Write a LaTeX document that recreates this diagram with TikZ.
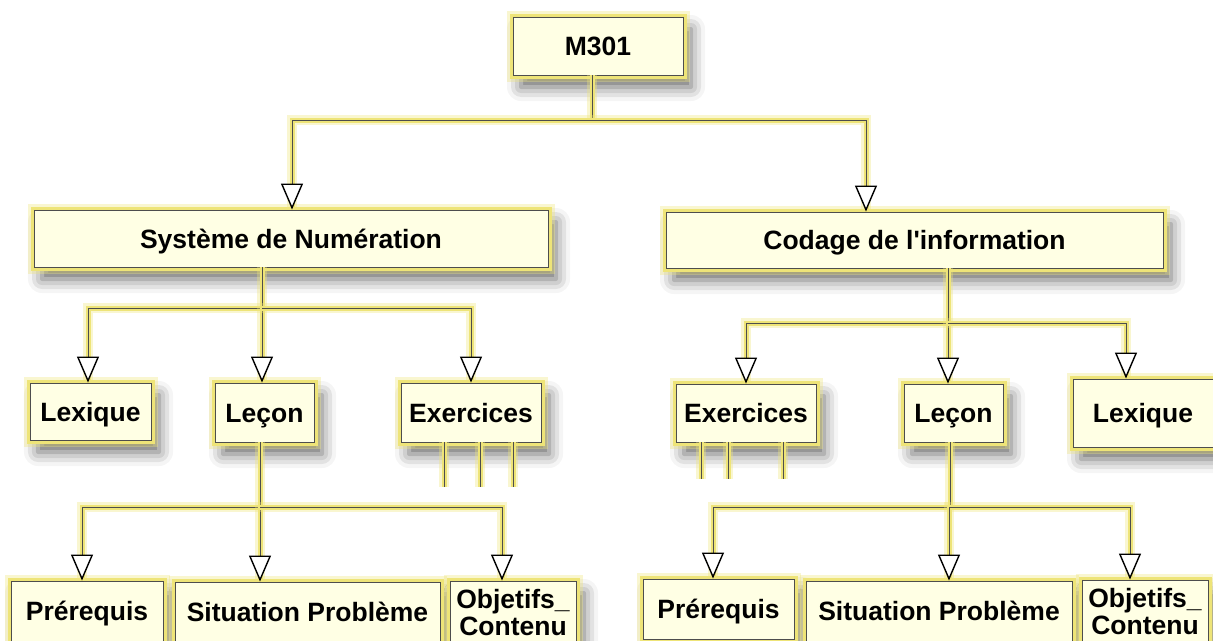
\documentclass[tikz,border=0pt]{standalone}
\usepackage{fontspec}
\setmainfont{Liberation Sans}[Ligatures=TeXOff]
\usetikzlibrary{arrows.meta,shadows.blur}
\definecolor{glow}{RGB}{238,228,120}
\definecolor{cream}{RGB}{255,255,228}
\definecolor{edge}{RGB}{77,77,77}

\begin{document}
\begin{tikzpicture}[x=1pt,y=-1pt,
        box/.style={draw=edge,line width=.9pt,fill=cream,inner sep=2pt,align=center,
            font=\bfseries\fontsize{26.5}{27}\selectfont,text height=19pt,text depth=0pt,
            blur shadow={shadow xshift=8pt,shadow yshift=-12pt,shadow blur radius=14pt,shadow opacity=60},
            preaction={draw=glow,line width=13pt,opacity=.35},
            preaction={draw=glow,line width=7pt}},
        link/.style={draw=edge,line width=.9pt,
            preaction={draw=glow,line width=10pt,opacity=.35,-},
            preaction={draw=glow,line width=5pt,-}},
        arr/.style={link,-{Triangle[length=26pt,width=22pt,color=black,fill=white,line width=1.4pt]}}]
        \useasboundingbox (0,0) rectangle (1213,640);
        \clip (0,0) rectangle (1213,640);

        \node[box,minimum width=170pt,minimum height=58pt] (m301) at (598,46) {M301};
        \node[box,minimum width=514pt,minimum height=57pt] (sysnum) at (291,238.5) {Système de Numération};
        \node[box,minimum width=497pt,minimum height=56pt] (codage) at (914.5,240) {Codage de l'information};

        \node[box,minimum width=121pt,minimum height=57pt] (lexA) at (90.5,411.5) {Lexique};
        \node[box,minimum width=99pt,minimum height=59pt] (leconA) at (264.5,412.5) {Leçon};
        \node[box,minimum width=140pt,minimum height=59pt] (exoA) at (471,412.5) {Exercices};
        \node[box,minimum width=140pt,minimum height=58pt] (exoB) at (746,413) {Exercices};
        \node[box,minimum width=99pt,minimum height=58pt] (leconB) at (953.5,413) {Leçon};
        \node[box,minimum width=140pt,minimum height=68pt] (lexB) at (1143,413) {Lexique};

        \node[box,minimum width=152pt,minimum height=60pt] (preA) at (87,611) {Prérequis};
        \node[box,minimum width=265pt,minimum height=60pt] (sitA) at (307.5,612) {Situation Problème};
        \node[box,minimum width=126pt,minimum height=62pt,text height=46pt] (objA) at (513,612) {Objetifs\_\\Contenu};
        \node[box,minimum width=151pt,minimum height=60pt] (preB) at (718.5,609) {Prérequis};
        \node[box,minimum width=266pt,minimum height=60pt] (sitB) at (939,611) {Situation Problème};
        \node[box,minimum width=126pt,minimum height=62pt,text height=46pt] (objB) at (1145,611) {Objetifs\_\\Contenu};

        % module -> chapitres
        \coordinate (top) at (592,120);
        \draw[link] (m301.south -| top) -- (top);
        \draw[arr] (top) -| ([xshift=1pt]sysnum.north);
        \draw[arr] (top) -| ([xshift=-48.5pt]codage.north);

        % chapitre 1
        \coordinate (jA) at (262,308);
        \draw[link] (sysnum.south -| jA) -- (jA);
        \draw[arr] (jA) -| ([xshift=-2.5pt]lexA.north);
        \draw[arr] (jA) -| ([xshift=-2.5pt]leconA.north);
        \draw[arr] (jA) -| (exoA.north);
        \draw[link] ([xshift=-27pt]exoA.south) -- ++(0,45);
        \draw[link] ([xshift=9pt]exoA.south) -- ++(0,45);
        \draw[link] ([xshift=42pt]exoA.south) -- ++(0,45);

        \coordinate (kA) at (260,507);
        \draw[link] (leconA.south -| kA) -- (kA);
        \draw[arr] (kA) -| ([xshift=-5pt]preA.north);
        \draw[arr] (kA) -| ([xshift=-47.5pt]sitA.north);
        \draw[arr] (kA) -| ([xshift=-11pt]objA.north);

        % chapitre 2
        \coordinate (jB) at (948,323);
        \draw[link] (codage.south -| jB) -- (jB);
        \draw[arr] (jB) -| (exoB.north);
        \draw[arr] (jB) -| ([xshift=-5.5pt]leconB.north);
        \draw[arr] (jB) -| ([xshift=-17pt]lexB.north);
        \draw[link] ([xshift=-45pt]exoB.south) -- ++(0,37);
        \draw[link] ([xshift=-18pt]exoB.south) -- ++(0,37);
        \draw[link] ([xshift=37pt]exoB.south) -- ++(0,37);

        \coordinate (kB) at (950,507);
        \draw[link] (leconB.south -| kB) -- (kB);
        \draw[arr] (kB) -| ([xshift=-5.5pt]preB.north);
        \draw[arr] (kB) -| ([xshift=10pt]sitB.north);
        \draw[arr] (kB) -| ([xshift=-15pt]objB.north);
    \end{tikzpicture}
\end{document}
